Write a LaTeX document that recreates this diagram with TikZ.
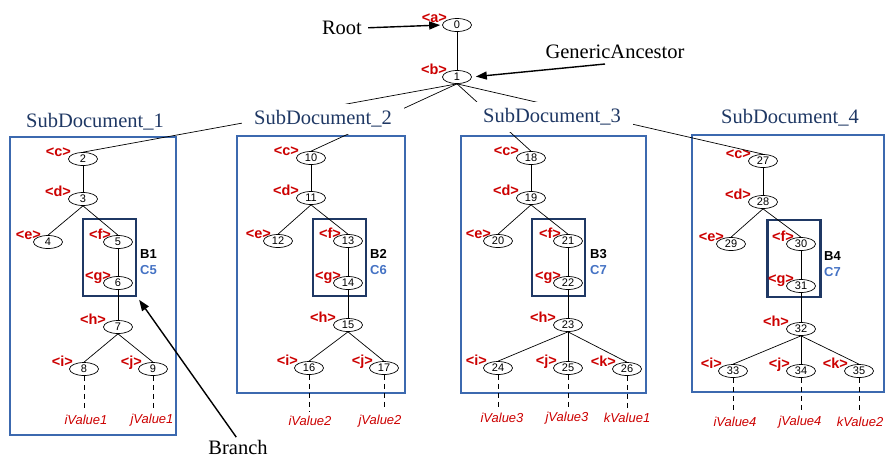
\documentclass[tikz,border=0pt]{standalone}
\usepackage{fontspec}
\setmainfont{Liberation Serif}
\setsansfont{Liberation Sans}
\usetikzlibrary{arrows.meta,shapes.geometric}
\definecolor{lblred}{RGB}{204,0,0}
\definecolor{boxblue}{RGB}{60,105,175}
\definecolor{navy}{RGB}{31,56,100}
\definecolor{cblue}{RGB}{68,114,196}
\newcommand\tlab[3][4]{\node[lbl] (#2lab) at ([xshift=#1pt,yshift=3pt]#2.west) {#3};}
\begin{document}
\begin{tikzpicture}[x=1pt,y=-1pt,
 tn/.style={ellipse,draw,line width=0.7pt,minimum width=29pt,minimum height=13pt,inner sep=0pt,font=\sffamily\fontsize{11}{11}\selectfont},
 edge/.style={line width=0.7pt},
 lbl/.style={font=\sffamily\bfseries\fontsize{14.5}{14.5}\selectfont,text=lblred,anchor=base east,inner sep=0pt},
 val/.style={font=\sffamily\itshape\fontsize{13}{13}\selectfont,text=lblred,inner sep=0pt},
 docbox/.style={draw=boxblue,line width=1.3pt},
 brbox/.style={draw=navy,line width=2.8pt,minimum width=53pt,minimum height=77pt,inner sep=0pt},
 doctitle/.style={font=\fontsize{20.5}{24}\selectfont,text=navy,inner xsep=12pt,inner ysep=7pt},
 serif/.style={font=\fontsize{20.5}{24}\selectfont,inner sep=0pt},
 bname/.style={font=\sffamily\bfseries\fontsize{13}{13}\selectfont,anchor=west,inner sep=0pt},
 dsh/.style={line width=0.7pt,dash pattern=on 5pt off 4pt,shorten >=4pt},
 arr/.style={line width=1.4pt,-{Triangle[length=11pt,width=8pt]}},
]
\useasboundingbox (0,0) rectangle (885,459);
% outer document boxes
\draw[docbox] (10,137) rectangle (176,435);
\draw[docbox] (237,136) rectangle (405,393);
\draw[docbox] (461,136) rectangle (646,393);
\draw[docbox] (692,135) rectangle (884,392);
% branch boxes
\node[brbox] (B1box) at (109.5,257.5) {};
\node[brbox] (B2box) at (339.5,257.5) {};
\node[brbox] (B3box) at (558.5,257.5) {};
\node[brbox] (B4box) at (794,258.5) {};
\node[bname] (B1) at (140,254) {B1};
\node[bname,text=cblue] (C5) at (140,270) {C5};
\node[bname] (B2) at (370,254) {B2};
\node[bname,text=cblue] (C6) at (370,270) {C6};
\node[bname] (B3) at (590,254) {B3};
\node[bname,text=cblue] (C7a) at (590,270) {C7};
\node[bname] (B4) at (824,256) {B4};
\node[bname,text=cblue] (C7b) at (824,272) {C7};
% tree nodes
\node[tn] (n0) at (457,25) {0};
\node[tn] (n1) at (457,77) {1};
\node[tn] (n2) at (83,159) {2};
\node[tn] (n3) at (83,199) {3};
\node[tn] (n4) at (48,242) {4};
\node[tn] (n5) at (118,242) {5};
\node[tn] (n6) at (118,283) {6};
\node[tn] (n7) at (118,327) {7};
\node[tn] (n8) at (84,369) {8};
\node[tn] (n9) at (153,369) {9};
\node[tn] (n10) at (311,158) {10};
\node[tn] (n11) at (311,198) {11};
\node[tn] (n12) at (278,241) {12};
\node[tn] (n13) at (348,241) {13};
\node[tn] (n14) at (348,283) {14};
\node[tn] (n15) at (348,325) {15};
\node[tn] (n16) at (309,368) {16};
\node[tn] (n17) at (384,368) {17};
\node[tn] (n18) at (531,158) {18};
\node[tn] (n19) at (531,198) {19};
\node[tn] (n20) at (498,241) {20};
\node[tn] (n21) at (568,241) {21};
\node[tn] (n22) at (568,283) {22};
\node[tn] (n23) at (568,325) {23};
\node[tn] (n24) at (498,368) {24};
\node[tn] (n25) at (568,368) {25};
\node[tn] (n26) at (627,369) {26};
\node[tn] (n27) at (763,161) {27};
\node[tn] (n28) at (763,202) {28};
\node[tn] (n29) at (731,244) {29};
\node[tn] (n30) at (801,244) {30};
\node[tn] (n31) at (801,286) {31};
\node[tn] (n32) at (801,329) {32};
\node[tn] (n33) at (733,371) {33};
\node[tn] (n34) at (801,371) {34};
\node[tn] (n35) at (859,371) {35};
% red labels
\tlab[5]{n0}{<a>}
\tlab[5]{n1}{<b>}
\foreach \c/\d/\e/\f/\g/\h/\i/\j in {n2/n3/n4/n5/n6/n7/n8/n9, n10/n11/n12/n13/n14/n15/n16/n17, n18/n19/n20/n21/n22/n23/n24/n25, n27/n28/n29/n30/n31/n32/n33/n34}{
  \tlab[3]{\c}{<c>}
  \tlab[3]{\d}{<d>}
  \tlab[8]{\e}{<e>}
  \tlab[8]{\f}{<f>}
  \tlab[8]{\g}{<g>}
  \tlab[3]{\h}{<h>}
  \tlab[4]{\i}{<i>}
  \tlab[4]{\j}{<j>}
}
\tlab[4]{n26}{<k>}
\tlab[4]{n35}{<k>}
% edges
\draw[edge] (n0) -- (n1);
\foreach \a/\b in {n2/n3,n3/n4,n3/n5,n5/n6,n6/n7,n7/n8,n7/n9,
  n10/n11,n11/n12,n11/n13,n13/n14,n14/n15,n15/n16,n15/n17,
  n18/n19,n19/n20,n19/n21,n21/n22,n22/n23,n23/n24,n23/n25,n23/n26,
  n27/n28,n28/n29,n28/n30,n30/n31,n31/n32,n32/n33,n32/n34,n32/n35}
  \draw[edge] (\a.south) -- (\b.north);
\foreach \b in {n2,n10,n18,n27}
  \draw[edge] (n1.south) -- (\b.north);
% document titles
\node[doctitle] (sd1) at (95,122) {SubDocument\_1};
\node[doctitle,fill=white] (sd2) at (323,119) {SubDocument\_2};
\node[doctitle,fill=white] (sd3) at (552,117) {SubDocument\_3};
\node[doctitle] (sd4) at (790,118) {SubDocument\_4};
% values
\node[val] (v1) at (86,420) {iValue1};
\node[val] (v2) at (152,420) {jValue1};
\node[val] (v3) at (310,421) {iValue2};
\node[val] (v4) at (380,421) {jValue2};
\node[val] (v5) at (502,418) {iValue3};
\node[val] (v6) at (567,418) {jValue3};
\node[val] (v7) at (627,418) {kValue1};
\node[val] (v8) at (735,422) {iValue4};
\node[val] (v9) at (800,422) {jValue4};
\node[val] (v10) at (860,422) {kValue2};
\foreach \n/\v in {n8/v1,n9/v2,n16/v3,n17/v4,n24/v5,n25/v6,n26/v7,n33/v8,n34/v9,n35/v10}
  \draw[dsh] (\n.south) -- (\n.south |- \v.north);
% annotations
\node[serif] (root) at (342,28) {Root};
\node[serif] (ga) at (615,52) {GenericAncestor};
\node[serif] (branch) at (238,447) {Branch};
\coordinate (gastart) at (605,64);
\draw[arr,shorten <=6pt,shorten >=2pt] (root.east) -- (n0.west);
\draw[arr,shorten >=4pt] (gastart) -- (n1.east);
\draw[arr,shorten <=3pt,shorten >=3pt] (branch.north) -- (B1box.south east);
\end{tikzpicture}
\end{document}
